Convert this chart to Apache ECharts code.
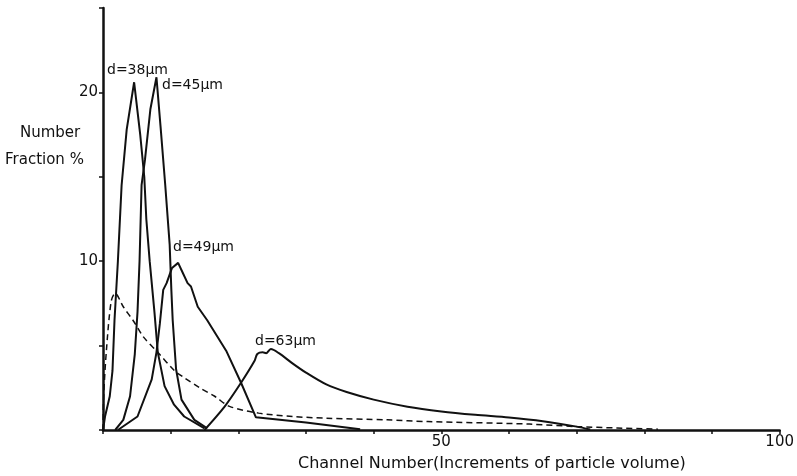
<!DOCTYPE html>
<html>
<head>
<meta charset="utf-8">
<script src="https://cdn.jsdelivr.net/npm/echarts@6/dist/echarts.min.js"></script>
<style>
  html, body { margin: 0; padding: 0; background: #fff; }
  #main { width: 797px; height: 476px; }
</style>
</head>
<body>
<div id="main"></div>
<script>
// values: [channel number, number fraction %]
var d38 = [[0,0],[0.3,0.8],[1,2],[1.4,3.5],[1.7,6.5],[2.2,10],[2.75,14.5],[3.5,17.8],[4.6,20.6],
  [5.5,17.5],[6.1,15],[6.4,12.5],[6.9,10],[7.6,7],[8.1,4.6],[9.1,2.6],[10.5,1.5],[12,0.8],[15,0.1]];
var d45 = [[1.8,0],[3,0.6],[4,2],[4.7,4.5],[5.1,7],[5.4,10],[5.7,14.5],[6.2,16],[7,19],[7.9,20.9],
  [8.5,18],[9.2,14.5],[9.85,11],[10.1,8.3],[10.3,6.5],[10.8,3.6],[11.6,1.8],[13.5,0.6],[15.4,0.1]];
var d49 = [[2.2,0],[5.1,0.8],[7.2,3],[7.9,4.6],[8.4,6.3],[8.9,8.3],[9.4,8.7],[10.2,9.6],[11.1,9.9],
  [11.8,9.3],[12.5,8.7],[13,8.5],[14,7.3],[15.4,6.5],[18.2,4.7],[20.4,2.8],[22.6,0.75],[30,0.45],[38,0.05]];
var d63 = [[15,0],[18,1.4],[20.4,2.8],[22.4,4.1],[22.8,4.5],[23.6,4.6],[24.1,4.55],[24.8,4.8],[26,4.55],
  [28,3.95],[30,3.4],[33,2.7],[36,2.25],[40,1.8],[45,1.38],[50,1.1],[55,0.9],[60,0.74],[65,0.52],
  [70,0.2],[72,0.03]];
var dashed = [[0,0],[0.1,2],[0.5,4.7],[1.2,7.6],[1.8,8.1],[3,7.3],[4.6,6.4],[6,5.5],[8.1,4.6],[10.6,3.5],
  [12,3.1],[14.3,2.5],[16.5,2],[18.7,1.4],[23,1.0],[28,0.8],[33,0.7],[42,0.6],[48,0.5],[63,0.35],
  [70,0.2],[76,0.12],[82,0.05]];
var xLabels = [50, 100];
var yLabels = [10, 20];
var peakNames = ['d=38µm', 'd=45µm', 'd=49µm', 'd=63µm'];

var font = 'DejaVu Sans';
var ink = '#111';

function curve(name, data, smooth, width, dash) {
  return {
    name: name, type: 'line', data: data, showSymbol: false, symbol: 'none',
    smooth: smooth,
    lineStyle: { color: ink, width: width, type: dash || 'solid' }, z: dash ? 2 : 3
  };
}

var chart = echarts.init(document.getElementById('main'));
chart.setOption({
  animation: false,
  grid: { left: 103, right: 14, top: 8, bottom: 46 },
  xAxis: {
    type: 'value', min: 0, max: 100, interval: 10,
    axisLine: { lineStyle: { color: ink, width: 2.5 } },
    axisTick: { show: true, length: 4, lineStyle: { color: ink, width: 1.5 } },
    axisLabel: {
      color: ink, fontFamily: font, fontSize: 15, margin: 5,
      formatter: function (v) { return xLabels.indexOf(v) >= 0 ? String(v) : ''; }
    },
    splitLine: { show: false }
  },
  yAxis: {
    type: 'value', min: 0, max: 25, interval: 5,
    axisLine: { show: true, lineStyle: { color: ink, width: 2.5 } },
    axisTick: { show: true, length: 4, lineStyle: { color: ink, width: 1.5 } },
    axisLabel: {
      color: ink, fontFamily: font, fontSize: 15, margin: 5,
      formatter: function (v) { return yLabels.indexOf(v) >= 0 ? String(v) : ''; }
    },
    splitLine: { show: false }
  },
  graphic: [
    { type: 'text', left: 20, top: 126, style: { text: 'Number', font: '15px ' + font, fill: ink } },
    { type: 'text', left: 5, top: 153, style: { text: 'Fraction %', font: '15px ' + font, fill: ink } },
    { type: 'text', left: 298, top: 456, style: { text: 'Channel Number(Increments of particle volume)', font: '16px ' + font, fill: ink } },
    { type: 'text', left: 107, top: 63, style: { text: peakNames[0], font: '14px ' + font, fill: ink } },
    { type: 'text', left: 162, top: 78, style: { text: peakNames[1], font: '14px ' + font, fill: ink } },
    { type: 'text', left: 173, top: 240, style: { text: peakNames[2], font: '14px ' + font, fill: ink } },
    { type: 'text', left: 255, top: 334, style: { text: peakNames[3], font: '14px ' + font, fill: ink } }
  ],
  series: [
    curve('d38', d38, false, 2),
    curve('d45', d45, false, 2),
    curve('d49', d49, false, 2),
    curve('d63', d63, 0.3, 2),
    curve('dashed', dashed, 0.3, 1.5, [6, 4])
  ]
});
</script>
</body>
</html>
